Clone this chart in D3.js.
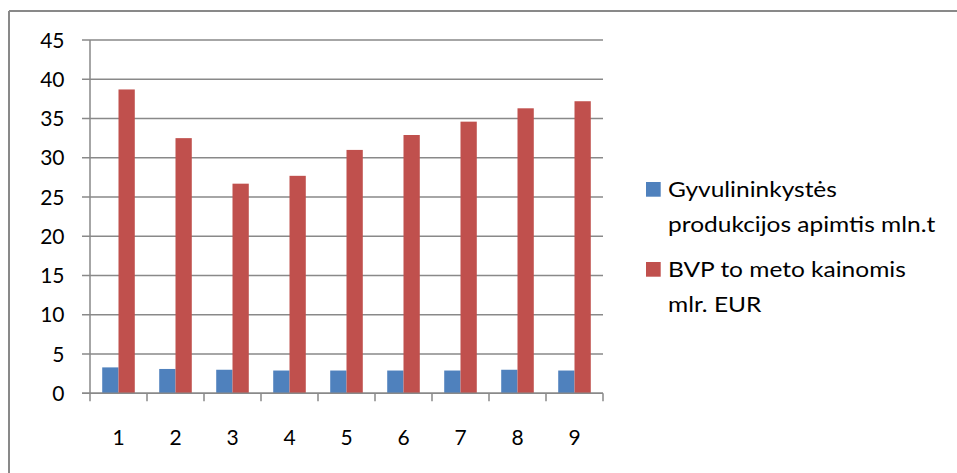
<!DOCTYPE html>
<html>
<head>
<meta charset="utf-8">
<script src="https://cdn.jsdelivr.net/npm/d3@7/dist/d3.min.js"></script>
<style>
  html, body { margin: 0; padding: 0; background: #fff; }
  svg { display: block; }
  text { font-family: Lato, "Open Sans", sans-serif; fill: #000; }
</style>
</head>
<body>
<svg id="chart" width="957" height="473"></svg>
<script>
// Chart data
const categories = ["1", "2", "3", "4", "5", "6", "7", "8", "9"];
const livestock = [3.3, 3.1, 3.0, 2.9, 2.9, 2.9, 2.9, 3.0, 2.9];
const gdp = [38.7, 32.5, 26.7, 27.7, 31.0, 32.9, 34.6, 36.3, 37.2];
const yTicks = [0, 5, 10, 15, 20, 25, 30, 35, 40, 45];
const seriesNames = [
  ["Gyvulininkystės", "produkcijos apimtis mln.t"],
  ["BVP to meto kainomis", "mlr. EUR"]
];
const seriesColors = ["#4F81BD", "#C0504D"];
const series = [livestock, gdp];

const svg = d3.select("#chart");
const gridColor = "#898989";

// Outer frame (top and left edges visible)
svg.append("line").attr("x1", 9).attr("x2", 957).attr("y1", 11).attr("y2", 11)
  .attr("stroke", gridColor).attr("stroke-width", 2);
svg.append("line").attr("x1", 9).attr("x2", 9).attr("y1", 11).attr("y2", 473)
  .attr("stroke", gridColor).attr("stroke-width", 2);

const plot = { left: 90, right: 603, top: 40, bottom: 393.3 };

const y = d3.scaleLinear().domain([0, 45]).range([plot.bottom, plot.top]);
const x0 = d3.scaleBand().domain(categories).range([plot.left, plot.right]).padding(0);
const step = x0.step();
const gap = step * 1.5 / 3.5;
const x1 = d3.scaleBand().domain([0, 1]).range([gap / 2, step - gap / 2]).padding(0);

// Horizontal gridlines
svg.append("g").selectAll("line").data(yTicks).join("line")
  .attr("x1", plot.left - 8).attr("x2", plot.right)
  .attr("y1", d => y(d)).attr("y2", d => y(d))
  .attr("stroke", gridColor).attr("stroke-width", 1.5);

// Y axis line
svg.append("line").attr("x1", plot.left).attr("x2", plot.left)
  .attr("y1", plot.top).attr("y2", plot.bottom)
  .attr("stroke", gridColor).attr("stroke-width", 1.5);

// Y tick labels
svg.append("g").selectAll("text").data(yTicks).join("text")
  .attr("x", 64.5).attr("y", d => y(d) + 7.6)
  .attr("text-anchor", "end").attr("font-size", 21)
  .text(d => d);

// Bars
const groups = svg.append("g").selectAll("g").data(categories).join("g")
  .attr("transform", d => `translate(${x0(d)},0)`);
groups.selectAll("rect")
  .data((d, i) => series.map((s, k) => ({ k, v: s[i] })))
  .join("rect")
  .attr("x", d => x1(d.k))
  .attr("width", x1.bandwidth())
  .attr("y", d => y(d.v))
  .attr("height", d => y(0) - y(d.v))
  .attr("fill", d => seriesColors[d.k]);

// X axis line and tick marks
svg.append("line").attr("x1", plot.left - 8).attr("x2", plot.right)
  .attr("y1", y(0)).attr("y2", y(0))
  .attr("stroke", gridColor).attr("stroke-width", 1.5);
const boundaries = categories.map(c => x0(c)).concat([plot.right]);
svg.append("g").selectAll("line").data(boundaries).join("line")
  .attr("x1", d => d).attr("x2", d => d)
  .attr("y1", y(0)).attr("y2", y(0) + 8)
  .attr("stroke", gridColor).attr("stroke-width", 1.5);

// X tick labels
svg.append("g").selectAll("text").data(categories).join("text")
  .attr("x", d => x0(d) + step / 2).attr("y", 444.5)
  .attr("text-anchor", "middle").attr("font-size", 21)
  .text(d => d);

// Legend
const legend = svg.append("g").attr("transform", "translate(646,182)");
const entry = legend.selectAll("g").data(seriesNames).join("g")
  .attr("transform", (d, i) => `translate(0,${i * 80})`);
entry.append("rect").attr("width", 14.7).attr("height", 14.7)
  .attr("fill", (d, i) => seriesColors[i]);
const labels = entry.append("g").attr("transform", "translate(22,0)")
  .append("text").attr("font-size", 20.5);
labels.selectAll("tspan").data(d => d).join("tspan")
  .attr("x", 0).attr("y", (d, j) => 14.6 + j * 35)
  .text(d => d);

// Widen legend text so the first label line spans 169px
const firstLine = labels.select("tspan").node();
const w = firstLine.getComputedTextLength();
const sx = 169 / w;
labels.attr("transform", `scale(${sx},1)`);
</script>
</body>
</html>
